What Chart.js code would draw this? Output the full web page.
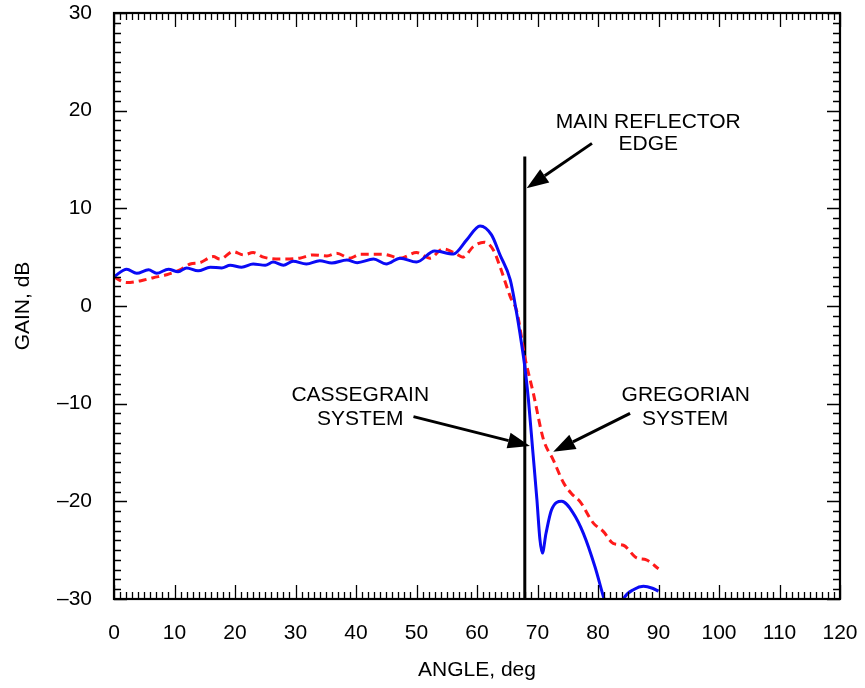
<!DOCTYPE html>
<html>
<head>
<meta charset="utf-8">
<script src="https://cdn.jsdelivr.net/npm/chart.js@4.4.1/dist/chart.umd.min.js"></script>
<style>
  html, body { margin: 0; padding: 0; background: #fff; }
  #gainChart { display: block; }
</style>
</head>
<body>
<canvas id="gainChart" width="865" height="688"></canvas>
<script>
// Cassegrain system (solid blue)
const cassegrainAngle = [0, 2.1, 3.75, 5.7, 7.05, 9, 10.6, 12, 13.9, 15.9, 17.8, 19.2, 21.1, 23, 25, 26.3, 28, 29.6, 31.8, 34, 36, 38.5, 40.2, 42.9, 45, 47.3, 50, 53, 56.1, 58.3, 60.5, 62.4, 63.8, 65.5, 66.6, 67.1, 67.9, 68.5, 69.2, 69.9, 70.4, 70.8, 71.4, 72.3, 74, 75.9, 77.6, 79.5, 81, 82.5, 84.2, 86, 87.5, 89, 90];
const cassegrainGain = [3.0, 3.77, 3.35, 3.7, 3.35, 3.77, 3.5, 3.9, 3.6, 3.97, 3.9, 4.17, 3.97, 4.3, 4.17, 4.5, 4.17, 4.57, 4.3, 4.64, 4.4, 4.7, 4.44, 4.8, 4.3, 4.9, 4.5, 5.64, 5.33, 6.77, 8.2, 7.28, 5.23, 2.67, -0.9, -2.8, -6.2, -9.6, -14.7, -19.8, -23.9, -25.3, -23.3, -20.9, -20.0, -21.2, -23.3, -26.7, -30, -33, -30, -29.0, -28.7, -28.9, -29.2];

// Gregorian system (dashed red)
const gregorianAngle = [0, 2.1, 4.3, 6.5, 8.7, 10.9, 12.6, 14.2, 16.4, 17.5, 19.7, 21.4, 23, 24.7, 27.4, 30.7, 32.9, 35.2, 36.8, 39, 40.7, 44.5, 47.3, 50, 52.2, 54.4, 56.4, 57.7, 59.4, 61.2, 62.7, 63.8, 65.5, 66.6, 67.9, 69.3, 71, 72.6, 74.3, 75.6, 77, 79.2, 80.9, 82.5, 84.2, 86.4, 88, 90];
const gregorianGain = [2.95, 2.4, 2.57, 2.9, 3.2, 3.7, 4.3, 4.44, 5.06, 4.8, 5.57, 5.23, 5.47, 5.0, 4.8, 4.9, 5.23, 5.13, 5.4, 4.9, 5.3, 5.3, 4.9, 5.47, 4.9, 5.85, 5.4, 5.0, 6.09, 6.53, 5.74, 4.03, 0.96, -0.6, -5.2, -8.9, -13.7, -15.75, -18.1, -19.2, -20.0, -22.2, -23.1, -24.3, -24.5, -25.8, -26.0, -26.9];

// main reflector edge marker
const edgeAngle = [67.9, 67.9];
const edgeGain = [15.3, -30];

const xTicks = [0, 10, 20, 30, 40, 50, 60, 70, 80, 90, 100, 110, 120];
const yTicks = [30, 20, 10, 0, -10, -20, -30];

// annotation labels: [angle, gain, text]
const labels = [
    [88.3, 18.85, "MAIN REFLECTOR"],
    [88.3, 16.6, "EDGE"],
    [40.7, -9.15, "CASSEGRAIN"],
    [40.7, -11.55, "SYSTEM"],
    [94.5, -9.15, "GREGORIAN"],
    [94.4, -11.55, "SYSTEM"]
];
// arrows: [tailAngle, tailGain, tipAngle, tipGain]
const arrows = [
    [79.0, 16.65, 68.2, 12.05],
    [49.5, -11.33, 68.75, -14.33],
    [85.3, -10.99, 72.6, -14.92]
];

const toPoints = (xs, ys) => xs.map((x, i) => ({ x: x, y: ys[i] }));

const FONT = "'Liberation Sans', Arial, Helvetica, sans-serif";

const framePlugin = {
    id: "frame",
    afterDraw(chart) {
        const ctx = chart.ctx;
        const xs = chart.scales.x;
        const ys = chart.scales.y;
        const a = chart.chartArea;
        ctx.save();
        ctx.strokeStyle = "#000";

        // inward ticks
        ctx.lineWidth = 1.3;
        ctx.beginPath();
        for (let v = 0; v <= 120; v++) {
            const px = Math.round(xs.getPixelForValue(v)) + 0.5;
            const len = v % 10 === 0 ? 14 : 7;
            ctx.moveTo(px, a.bottom);
            ctx.lineTo(px, a.bottom - len);
            ctx.moveTo(px, a.top);
            ctx.lineTo(px, a.top + len);
        }
        for (let v = -30; v <= 30; v++) {
            const py = Math.round(ys.getPixelForValue(v)) + 0.5;
            const len = v % 10 === 0 ? 13 : 7;
            ctx.moveTo(a.left, py);
            ctx.lineTo(a.left + len, py);
            ctx.moveTo(a.right, py);
            ctx.lineTo(a.right - len, py);
        }
        ctx.stroke();

        // frame
        ctx.lineWidth = 2.2;
        ctx.strokeRect(a.left, a.top, a.right - a.left, a.bottom - a.top);

        // arrows
        ctx.fillStyle = "#000";
        arrows.forEach(ar => {
            const x1 = xs.getPixelForValue(ar[0]), y1 = ys.getPixelForValue(ar[1]);
            const x2 = xs.getPixelForValue(ar[2]), y2 = ys.getPixelForValue(ar[3]);
            const ang = Math.atan2(y2 - y1, x2 - x1);
            const headLen = 22, headHalf = 8;
            const bx = x2 - headLen * Math.cos(ang), by = y2 - headLen * Math.sin(ang);
            ctx.lineWidth = 3;
            ctx.beginPath();
            ctx.moveTo(x1, y1);
            ctx.lineTo(bx, by);
            ctx.stroke();
            ctx.beginPath();
            ctx.moveTo(x2, y2);
            ctx.lineTo(bx + headHalf * Math.sin(ang), by - headHalf * Math.cos(ang));
            ctx.lineTo(bx - headHalf * Math.sin(ang), by + headHalf * Math.cos(ang));
            ctx.closePath();
            ctx.fill();
        });

        // labels
        ctx.font = "21px " + FONT;
        ctx.textAlign = "center";
        ctx.textBaseline = "middle";
        labels.forEach(l => {
            ctx.fillText(l[2], xs.getPixelForValue(l[0]), ys.getPixelForValue(l[1]));
        });
        ctx.restore();
    }
};

new Chart(document.getElementById("gainChart"), {
    type: "line",
    data: {
        datasets: [
            {
                label: "Cassegrain",
                data: toPoints(cassegrainAngle, cassegrainGain),
                borderColor: "#0a0af5",
                borderWidth: 3,
                pointRadius: 0,
                cubicInterpolationMode: "monotone",
                fill: false
            },
            {
                label: "Gregorian",
                data: toPoints(gregorianAngle, gregorianGain),
                borderColor: "#ff1a1a",
                borderWidth: 3,
                borderDash: [8, 5],
                pointRadius: 0,
                cubicInterpolationMode: "monotone",
                fill: false
            },
            {
                label: "Edge",
                data: toPoints(edgeAngle, edgeGain),
                borderColor: "#000",
                borderWidth: 3,
                pointRadius: 0,
                fill: false
            }
        ]
    },
    options: {
        responsive: false,
        animation: false,
        layout: { padding: { top: 13, right: 25, left: 0, bottom: 0 } },
        plugins: {
            legend: { display: false },
            tooltip: { enabled: false }
        },
        scales: {
            x: {
                type: "linear",
                min: 0,
                max: 120,
                grid: { display: false, drawTicks: false },
                border: { display: false },
                afterBuildTicks: s => { s.ticks = xTicks.map(v => ({ value: v })); },
                afterFit: s => { s.height = 89; s.paddingLeft = 0; s.paddingRight = 0; },
                ticks: {
                    padding: 22,
                    maxRotation: 0,
                    autoSkip: false,
                    color: "#000",
                    font: { family: FONT, size: 21 }
                },
                title: {
                    display: true,
                    text: "ANGLE, deg",
                    color: "#000",
                    font: { family: FONT, size: 21 },
                    padding: { top: 0, bottom: 5 }
                }
            },
            y: {
                type: "linear",
                min: -30,
                max: 30,
                grid: { display: false, drawTicks: false },
                border: { display: false },
                afterBuildTicks: s => { s.ticks = yTicks.map(v => ({ value: v })); },
                afterFit: s => { s.width = 114; s.paddingTop = 0; s.paddingBottom = 0; },
                ticks: {
                    padding: 22,
                    autoSkip: false,
                    color: "#000",
                    font: { family: FONT, size: 21 },
                    callback: v => String(v).replace("-", "\u2013")
                },
                title: {
                    display: true,
                    text: "GAIN, dB",
                    color: "#000",
                    font: { family: FONT, size: 21 },
                    padding: { top: 11, bottom: 0 }
                }
            }
        }
    },
    plugins: [framePlugin]
});
</script>
</body>
</html>
